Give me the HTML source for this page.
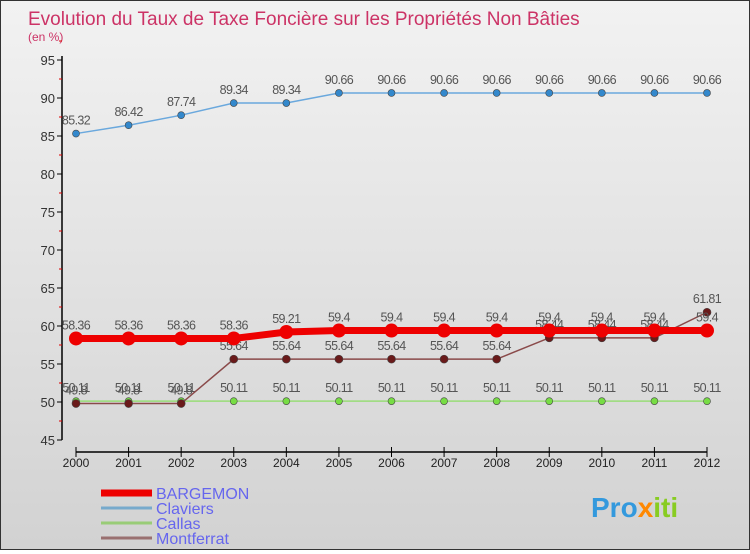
<!DOCTYPE html>
<html><head><meta charset="utf-8"><style>
body{margin:0;width:750px;height:550px;overflow:hidden;font-family:"Liberation Sans",sans-serif}
#c{position:absolute;left:0;top:0;width:748px;height:548px;border:1px solid #333;background:linear-gradient(#f2f2f2,#d2d2d2)}
</style></head><body>
<div id="c">
<svg id="s" width="748" height="548" xmlns="http://www.w3.org/2000/svg">
<text x="27" y="24" font-size="19" fill="#cc3366">Evolution du Taux de Taxe Foncière sur les Propriétés Non Bâties</text>
<text x="27" y="40" font-size="12" fill="#cc3366">(en %)</text>
<g id="g"></g>
<text x="590" y="516" font-size="28" font-weight="bold" fill="#3399dd">Pro<tspan fill="#ff8800">x</tspan><tspan fill="#88cc22">iti</tspan></text>
</svg></div>
<script>
const years=[2000,2001,2002,2003,2004,2005,2006,2007,2008,2009,2010,2011,2012];
const yTicks=[45,50,55,60,65,70,75,80,85,90,95];
const bargemon=[58.36,58.36,58.36,58.36,59.21,59.4,59.4,59.4,59.4,59.4,59.4,59.4,59.4];
const claviers=[85.32,86.42,87.74,89.34,89.34,90.66,90.66,90.66,90.66,90.66,90.66,90.66,90.66];
const callas=[50.11,50.11,50.11,50.11,50.11,50.11,50.11,50.11,50.11,50.11,50.11,50.11,50.11];
const montferrat=[49.8,49.8,49.8,55.64,55.64,55.64,55.64,55.64,55.64,58.44,58.44,58.44,61.81];
const seriesNames=["BARGEMON","Claviers","Callas","Montferrat"];
const NS="http://www.w3.org/2000/svg",g=document.getElementById('g');
const X=i=>75+i*(706-75)/(years.length-1);
const Y=v=>439-(v-45)*(439-59)/50;
function mk(t,a,p){const e=document.createElementNS(NS,t);for(const k in a)e.setAttribute(k,a[k]);(p||g).appendChild(e);return e;}
let ax=mk('line',{x1:61,y1:55,x2:61,y2:439,stroke:'#000','stroke-width':1.5});


yTicks.forEach(v=>{mk('line',{x1:56,x2:61,y1:Y(v),y2:Y(v),stroke:'#000'});
 mk('line',{x1:58,x2:61,y1:Y(v+2.5),y2:Y(v+2.5),stroke:'#d00'});
 const t=mk('text',{x:54,y:Y(v)+5,'text-anchor':'end','font-size':13,fill:'#333'});t.textContent=v;
 
 });
let xa=mk('line',{x1:75,y1:451,x2:706,y2:451,stroke:'#000','stroke-width':1.5});


years.forEach((y,i)=>{mk('line',{x1:X(i),x2:X(i),y1:446,y2:456,stroke:'#000'});
 const t=mk('text',{x:X(i),y:466,'text-anchor':'middle','font-size':12,fill:'#222'});t.textContent=y;
 
 });
function series(d,col,dot,w,r,name){
 const p=mk('polyline',{points:d.map((v,i)=>X(i)+','+Y(v)).join(' '),fill:'none',stroke:col,'stroke-width':w});
 
 
 d.forEach((v,i)=>{const c=mk('circle',{cx:X(i),cy:Y(v),r:r,fill:dot,stroke:'#444','stroke-width':r>4?0:0.6});
  
  
  const t=mk('text',{x:X(i),y:Y(v)-9,'text-anchor':'middle','font-size':12.5,fill:'#555','letter-spacing':'-0.6'});t.textContent=v;
  
  });
}
series(callas,'#99dd77','#77dd44',1.5,3.5,'callas');
series(montferrat,'#8a4a4a','#6a1a1a',1.5,4,'montferrat');
series(claviers,'#6aa8dd','#3388cc',1.5,3.5,'claviers');
series(bargemon,'#ee0000','#ee0000',7,7,'bargemon');
const cols=['#ee0000','#77aacc','#99cc77','#997070'],ws=[7,3,3,3];
seriesNames.forEach((n,i)=>{const y=492+i*15;
 const l=mk('line',{x1:100,x2:151,y1:y,y2:y,stroke:cols[i],'stroke-width':ws[i]});
 
 
 const t=mk('text',{x:155,y:y+6,'font-size':16,fill:'#6666ee'});t.textContent=n;
 
 });
</script></body></html>
